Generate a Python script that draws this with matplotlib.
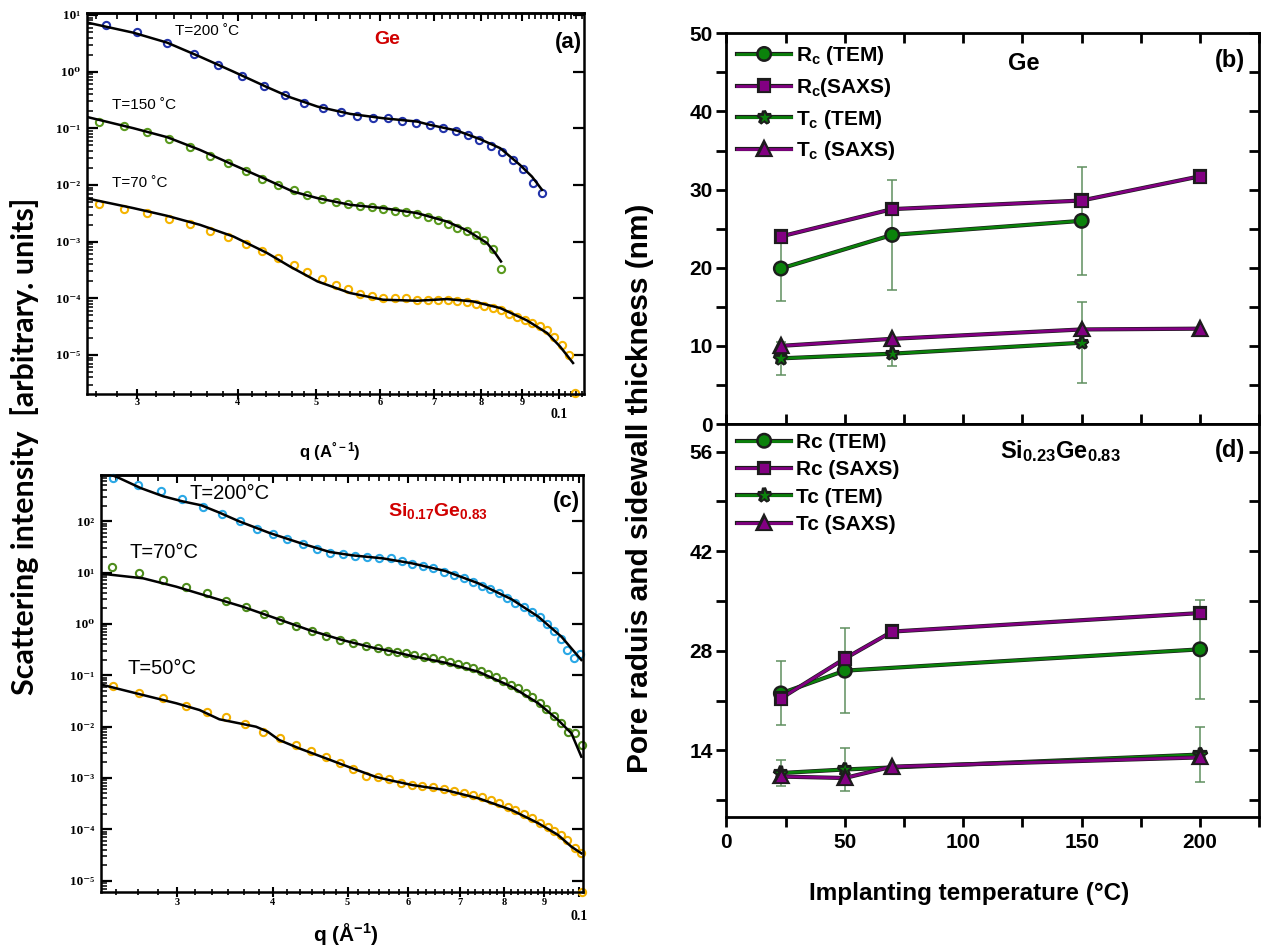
import numpy as np
import matplotlib
matplotlib.use('Agg')
import matplotlib.pyplot as plt
from matplotlib import ticker
import matplotlib.patheffects as pe
from matplotlib.lines import Line2D

# ---------------- data: panel (a)  Ge, SAXS curves ----------------
qa_200 = [0.0275, 0.0300, 0.0327, 0.0353, 0.0378, 0.0405, 0.0431, 0.0457, 0.0483,
          0.0510, 0.0536, 0.0562, 0.0588, 0.0614, 0.0639, 0.0665, 0.0692, 0.0718,
          0.0745, 0.0771, 0.0796, 0.0823, 0.0850, 0.0877, 0.0902, 0.0928, 0.0952]
Ia_200 = [6.67, 4.95, 3.25, 2.05, 1.31, 0.839, 0.560, 0.388, 0.284, 0.226, 0.192,
          0.168, 0.154, 0.151, 0.136, 0.126, 0.1135, 0.1016, 0.090, 0.0766, 0.0624,
          0.0489, 0.0388, 0.0277, 0.0189, 0.01075, 0.00716]
qa_150 = [0.0269, 0.0289, 0.0309, 0.0329, 0.0349, 0.0369, 0.0389, 0.0410, 0.0429,
          0.0449, 0.0469, 0.0487, 0.0509, 0.0529, 0.0548, 0.0567, 0.0587, 0.0605,
          0.0626, 0.0646, 0.0667, 0.0688, 0.0708, 0.0728, 0.0747, 0.0769, 0.0789,
          0.0807, 0.0828, 0.0848]
Ia_150 = [0.131, 0.110, 0.0853, 0.0643, 0.0476, 0.0330, 0.0242, 0.0177, 0.0128,
          0.0100, 0.0080, 0.0067, 0.0056, 0.0050, 0.0046, 0.0043, 0.0040, 0.00374,
          0.00353, 0.00331, 0.00305, 0.00277, 0.00242, 0.00206, 0.00177, 0.00151,
          0.00132, 0.00105, 0.00074, 0.00033]
qa_70 = qa_150 + [0.0867, 0.0887, 0.0908, 0.0925, 0.0947, 0.0966, 0.0985, 0.1008,
                  0.1028, 0.1046]
Ia_70 = [0.00464, 0.00379, 0.00326, 0.00252, 0.00206, 0.00157, 0.00120, 0.000903,
         0.000669, 0.000512, 0.000379, 0.000285, 0.000218, 0.000173, 0.000145,
         0.000120, 0.000111, 0.000103, 0.000101, 0.000101, 9.4e-5, 9.4e-5, 9.4e-5,
         9.4e-5, 8.8e-5, 8.6e-5, 8.0e-5, 7.4e-5, 6.7e-5, 6.1e-5, 5.3e-5, 4.7e-5,
         4.2e-5, 3.7e-5, 3.3e-5, 2.7e-5, 2.1e-5, 1.5e-5, 1.0e-5, 2.1e-6]

# fitted curves (a)
qfa_200 = [0.0260, 0.0297, 0.0327, 0.0359, 0.0395, 0.0435, 0.0464, 0.0502, 0.0551,
           0.0605, 0.0667, 0.0692, 0.0747, 0.0798, 0.0845, 0.0894, 0.0925, 0.0952]
Ifa_200 = [7.38, 4.87, 3.25, 1.84, 1.0, 0.531, 0.354, 0.2415, 0.1795, 0.1507,
           0.1313, 0.1148, 0.0910, 0.0642, 0.0446, 0.0226, 0.01406, 0.0082]
qfa_150 = [0.0260, 0.0297, 0.0327, 0.0359, 0.0395, 0.0435, 0.0468, 0.0502, 0.0551,
           0.0605, 0.0667, 0.0726, 0.0769, 0.0814, 0.0833, 0.0847]
Ifa_150 = [0.159, 0.1004, 0.0697, 0.0416, 0.0226, 0.0123, 0.00765, 0.00585, 0.00446,
           0.00390, 0.00318, 0.00226, 0.00157, 0.000942, 0.000627, 0.000446]
qfa_70 = [0.0260, 0.0297, 0.0327, 0.0359, 0.0395, 0.0435, 0.0464, 0.0502, 0.0551,
          0.0605, 0.0667, 0.0726, 0.0782, 0.0845, 0.0912, 0.0966, 0.1002, 0.1040]
Ifa_70 = [0.0058, 0.0039, 0.00285, 0.00198, 0.00123, 0.000627, 0.000364, 0.000198,
          0.0001236, 9.42e-5, 9.04e-5, 9.68e-5, 8.79e-5, 6.72e-5, 4.06e-5, 2.43e-5,
          1.41e-5, 7.2e-6]

# ---------------- data: panel (c)  Si0.17Ge0.83 ----------------
qc_200 = [0.0248, 0.0267, 0.0286, 0.0305, 0.0324, 0.0343, 0.0362, 0.0381, 0.0400,
          0.0417, 0.0438, 0.0456, 0.0475, 0.0493, 0.0511, 0.0530, 0.0549, 0.0569,
          0.0588, 0.0606, 0.0626, 0.0645, 0.0667, 0.0687, 0.0708, 0.0727, 0.0747,
          0.0767, 0.0788, 0.0807, 0.0826, 0.0849, 0.0869, 0.0890, 0.0909, 0.0928,
          0.0948, 0.0965, 0.0985, 0.1003]
Ic_200 = [708, 497, 380, 273, 190, 138, 99.8, 71.9, 55.2, 44.1, 35.3, 29.1, 24.4,
          22.6, 21.0, 20.0, 19.6, 19.0, 17.0, 14.6, 13.4, 12.1, 10.4, 8.94, 7.71,
          6.62, 5.53, 4.71, 3.94, 3.15, 2.51, 2.16, 1.72, 1.34, 0.98, 0.726, 0.500,
          0.310, 0.2135, 0.259]
qc_70 = [0.0247, 0.0268, 0.0288, 0.0308, 0.0328, 0.0348, 0.0369, 0.0389, 0.0408,
         0.0428, 0.0449, 0.0469, 0.0489, 0.0508, 0.0528, 0.0548, 0.0565, 0.0580,
         0.0595, 0.0611, 0.0628, 0.0645, 0.0663, 0.0680, 0.0697, 0.0712, 0.0729,
         0.0746, 0.0762, 0.0779, 0.0797, 0.0816, 0.0834, 0.0852, 0.0869, 0.0889,
         0.0907, 0.0928, 0.0947, 0.0968, 0.0989, 0.1009]
Ic_70 = [13.0, 9.64, 7.14, 5.29, 3.93, 2.82, 2.16, 1.56, 1.19, 0.908, 0.726, 0.580,
         0.484, 0.418, 0.371, 0.334, 0.300, 0.287, 0.267, 0.247, 0.229, 0.213,
         0.198, 0.183, 0.165, 0.153, 0.136, 0.121, 0.1055, 0.0910, 0.0771, 0.0644,
         0.0556, 0.0456, 0.0371, 0.0284, 0.0217, 0.0160, 0.0119, 0.00794, 0.00739,
         0.00438]
qc_50 = [0.0248, 0.0268, 0.0288, 0.0308, 0.0328, 0.0348, 0.0368, 0.0388, 0.0408,
         0.0428, 0.0448, 0.0469, 0.0489, 0.0508, 0.0528, 0.0548, 0.0566, 0.0586,
         0.0606, 0.0625, 0.0645, 0.0667, 0.0687, 0.0708, 0.0727, 0.0747, 0.0768,
         0.0787, 0.0808, 0.0826, 0.0849, 0.0869, 0.0889, 0.0910, 0.0928, 0.0947,
         0.0966, 0.0988, 0.1006, 0.1010]
Ic_50 = [0.0617, 0.0445, 0.0355, 0.0255, 0.0189, 0.0151, 0.01106, 0.00794, 0.00590,
         0.00438, 0.00339, 0.00259, 0.00198, 0.00147, 0.00109, 0.00105, 0.00095,
         0.000785, 0.000728, 0.000696, 0.000656, 0.000600, 0.000563, 0.000515,
         0.000465, 0.000419, 0.000371, 0.000320, 0.000275, 0.000237, 0.000198,
         0.000163, 0.000134, 0.000112, 9.38e-5, 7.73e-5, 6.18e-5, 4.26e-5, 3.40e-5,
         6.1e-6]

# fitted curves (c)
qfc_200 = [0.0239, 0.02515, 0.02692, 0.0288, 0.03048, 0.03226, 0.03413, 0.03611,
           0.03954, 0.04328, 0.0474, 0.05072, 0.05552, 0.06065, 0.06701, 0.07398,
           0.08173, 0.08852, 0.09487, 0.1007]
Ifc_200 = [948, 708, 441, 305, 244, 204, 145, 99.8, 59.3, 38.0, 25.1, 21.6, 18.9,
           15.1, 10.7, 6.16, 3.01, 1.38, 0.563, 0.198]
qfc_70 = [0.0239, 0.02711, 0.02995, 0.03307, 0.03653, 0.04035, 0.04456, 0.04922,
          0.05439, 0.0566, 0.06065, 0.06701, 0.07398, 0.08173, 0.08852, 0.09393,
          0.09775, 0.1007]
Ifc_70 = [9.5, 7.71, 5.29, 3.38, 2.16, 1.28, 0.759, 0.484, 0.334, 0.300, 0.2366,
          0.175, 0.117, 0.0597, 0.0284, 0.01343, 0.00739, 0.00259]
qfc_50 = [0.0239, 0.02711, 0.02995, 0.0321, 0.03407, 0.03617, 0.03802, 0.03937,
          0.04075, 0.04325, 0.04685, 0.05071, 0.05439, 0.0566, 0.06065, 0.06701,
          0.07398, 0.08173, 0.08852, 0.09393, 0.09775, 0.1007]
Ifc_50 = [0.0659, 0.0411, 0.0284, 0.0210, 0.01384, 0.01156, 0.00993, 0.00794,
          0.00547, 0.00377, 0.00241, 0.00154, 0.00105, 0.00091, 0.000728, 0.000581,
          0.000401, 0.000237, 0.000131, 7.73e-5, 4.57e-5, 3.40e-5]

# ---------------- data: panel (b)  Ge pore sizes ----------------
tb_tem = [23, 70, 150]
tb_saxs = [23, 70, 150, 200]
rc_tem_b = [19.9, 24.2, 26.0]
rc_tem_b_err = [4.2, 7.0, 6.9]
rc_saxs_b = [24.0, 27.5, 28.6, 31.7]
tc_tem_b = [8.4, 9.0, 10.4]
tc_tem_b_err = [2.1, 1.6, 5.2]
tc_saxs_b = [10.0, 10.9, 12.1, 12.2]

# ---------------- data: panel (d)  SiGe pore sizes ----------------
td_tem = [23, 50, 200]
td_saxs = [23, 50, 70, 200]
rc_tem_d = [22.0, 25.2, 28.2]
rc_tem_d_err = [4.5, 6.0, 7.0]
rc_saxs_d = [21.3, 26.9, 30.7, 33.3]
tc_tem_d = [10.8, 11.3, 13.4]
tc_tem_d_err = [1.8, 3.0, 3.9]
tc_saxs_d = [10.3, 10.1, 11.7, 13.0]

# ---------------- style ----------------
plt.rcParams['mathtext.fontset'] = 'custom'
plt.rcParams['mathtext.rm'] = 'Liberation Sans:bold'
plt.rcParams['mathtext.it'] = 'Liberation Sans:bold'
plt.rcParams['mathtext.bf'] = 'Liberation Sans:bold'
plt.rcParams['mathtext.default'] = 'rm'
plt.rcParams['font.family'] = ['Liberation Sans', 'DejaVu Sans']

W, H = 1262, 946
fig = plt.figure(figsize=(W / 100, H / 100), dpi=100)


def box(x0, y0, x1, y1):
    # pixel box (left, top, right, bottom) -> figure fraction rect
    return [x0 / W, 1 - y1 / H, (x1 - x0) / W, (y1 - y0) / H]


def ftext(x, y, s, **kw):
    fig.text(x / W, 1 - y / H, s, **kw)


serif = ['Liberation Serif', 'DejaVu Serif']
q_major = [0.03, 0.04, 0.05, 0.06, 0.07, 0.08, 0.09, 0.1]
q_minor = np.arange(0.02, 0.11, 0.01 / 6)
sup = {1: '10\u00b9', 2: '10\u00b2', 0: '10\u2070', -1: '10\u207b\u00b9',
       -2: '10\u207b\u00b2', -3: '10\u207b\u00b3', -4: '10\u207b\u2074',
       -5: '10\u207b\u2075'}


def saxs_axes(ax, xlim, ylim, decs, lab_y, lab_y01):
    ax.set_xscale('log')
    ax.set_yscale('log')
    for sp in ax.spines.values():
        sp.set_linewidth(1.8)
    ax.xaxis.set_major_locator(ticker.FixedLocator(q_major))
    ax.xaxis.set_minor_locator(ticker.FixedLocator(q_minor))
    ax.xaxis.set_major_formatter(ticker.NullFormatter())
    ax.xaxis.set_minor_formatter(ticker.NullFormatter())
    ax.tick_params(axis='x', which='major', direction='inout', length=7, width=1.5)
    ax.tick_params(axis='x', which='minor', direction='inout', length=4, width=1.2)
    ax.set_yticks([10.0 ** k for k in decs], labels=[sup[k] for k in decs],
                  fontsize=9.5, fontweight='bold', family=serif)
    ax.yaxis.set_minor_locator(ticker.LogLocator(base=10, subs=np.arange(2, 10),
                                                 numticks=50))
    ax.yaxis.set_minor_formatter(ticker.NullFormatter())
    ax.tick_params(axis='y', which='major', direction='in', length=8, width=1.6,
                   right=True, pad=5)
    ax.tick_params(axis='y', which='minor', direction='in', length=4, width=1.1,
                   right=False)
    ax.set_xlim(*xlim)
    ax.set_ylim(*ylim)
    top = ax.secondary_xaxis('top')
    top.xaxis.set_major_locator(ticker.FixedLocator(q_major))
    top.xaxis.set_minor_locator(ticker.FixedLocator(q_minor))
    top.xaxis.set_major_formatter(ticker.NullFormatter())
    top.xaxis.set_minor_formatter(ticker.NullFormatter())
    top.tick_params(axis='x', which='major', direction='in', length=6, width=1.5)
    top.tick_params(axis='x', which='minor', direction='in', length=4, width=1.2)
    top.spines['top'].set_linewidth(1.8)
    tr = ax.get_xaxis_transform()
    for i, q in enumerate(q_major[:-1]):
        ax.text(q, lab_y, str(i + 3), transform=tr, ha='center', va='center',
                fontsize=7.5, fontweight='bold', family=serif)
    ax.text(0.1, lab_y01, '0.1', transform=tr, ha='center', va='center',
            fontsize=10, fontweight='bold', family=serif)


def saxs_curve(ax, q, I, qf, If, color):
    ax.plot(qf, If, color='black', lw=1.8, zorder=3)
    ax.plot(q, I, 'o', mfc='none', mec=color, mew=1.5, ms=5.2, zorder=2,
            clip_on=False)


# ---------------- panel (a) ----------------
ax_a = fig.add_axes(box(86.7, 13, 584, 394))
saxs_axes(ax_a, (0.0260, 0.1073), (10 ** -5.69, 10 ** 1.035), range(-5, 2),
          -0.022, -0.055)
saxs_curve(ax_a, qa_200, Ia_200, qfa_200, Ifa_200, '#2233aa')
saxs_curve(ax_a, qa_150, Ia_150, qfa_150, Ifa_150, '#5a9a1e')
saxs_curve(ax_a, qa_70, Ia_70, qfa_70, Ifa_70, '#f5b400')
ftext(175, 31, 'T=200 \u02daC', fontsize=11, va='center')
ftext(112, 105, 'T=150 \u02daC', fontsize=11, va='center')
ftext(112, 183, 'T=70 \u02daC', fontsize=11, va='center')
ftext(387, 40, 'Ge', fontsize=14, color='#d00000', fontweight='bold',
      ha='center', va='center')
ftext(568, 42, '(a)', fontsize=16, fontweight='bold', ha='center', va='center')
ftext(330, 452, 'q (A$^{\u00b0-1}$)', fontsize=12, fontweight='bold',
      ha='center', va='center')

# ---------------- panel (c) ----------------
ax_c = fig.add_axes(box(101, 475, 583, 891.7))
saxs_axes(ax_c, (0.0239, 0.1012), (10 ** -5.216, 10 ** 2.899), range(-5, 3),
          -0.027, -0.06)
saxs_curve(ax_c, qc_200, Ic_200, qfc_200, Ifc_200, '#2aa8e6')
saxs_curve(ax_c, qc_70, Ic_70, qfc_70, Ifc_70, '#4e8c1c')
saxs_curve(ax_c, qc_50, Ic_50, qfc_50, Ifc_50, '#f2b000')
ftext(190, 493, 'T=200\u00b0C', fontsize=14.5, va='center')
ftext(129, 552, 'T=70\u00b0C', fontsize=14.5, va='center')
ftext(128, 668, 'T=50\u00b0C', fontsize=14.5, va='center')
ftext(438, 511, 'Si$_{0.17}$Ge$_{0.83}$', fontsize=14, color='#d00000',
      fontweight='bold', ha='center', va='center')
ftext(566, 502, '(c)', fontsize=16, fontweight='bold', ha='center', va='center')
ftext(346, 934, 'q (\u00c5$^{-1}$)', fontsize=15, fontweight='bold',
      ha='center', va='center')

ftext(25, 446, 'Scattering intensity  [arbitrary. units]', rotation=90,
      fontsize=22, fontweight='bold', family='Lato', ha='center', va='center')

# ---------------- right panels ----------------
green = '#0b820b'
purple = '#820082'
err_c = '#5f8f5f'
edge = '#1c1c1c'
stroke = [pe.Stroke(linewidth=3.0, foreground=edge), pe.Normal()]


def size_axes(ax, ylim, majors, minors, bottom_labels):
    for sp in ax.spines.values():
        sp.set_linewidth(2)
    ax.set_xticks([0, 50, 100, 150, 200])
    ax.set_xticks([25, 75, 125, 175, 225], minor=True)
    ax.set_yticks(majors)
    ax.set_yticks(minors, minor=True)
    ax.set_xlim(0, 225)
    ax.set_ylim(*ylim)
    ax.tick_params(axis='y', which='both', direction='out', length=7, width=2,
                   labelsize=15, pad=3)
    for lab in ax.get_yticklabels():
        lab.set_fontweight('bold')
    right = ax.secondary_yaxis('right')
    right.set_yticks(majors)
    right.set_yticks(minors, minor=True)
    right.tick_params(axis='y', which='both', direction='in', length=7, width=2,
                      labelright=False)
    if bottom_labels:
        ax.tick_params(axis='x', which='both', direction='out', length=7,
                       width=2, labelsize=15, pad=5)
        for lab in ax.get_xticklabels():
            lab.set_fontweight('bold')
    else:
        ax.tick_params(axis='x', which='both', direction='in', length=7,
                       width=2, labelbottom=False)
        topx = ax.secondary_xaxis('top')
        topx.set_xticks([0, 50, 100, 150, 200])
        topx.set_xticks([25, 75, 125, 175, 225], minor=True)
        topx.tick_params(axis='x', which='both', direction='in', length=7,
                         width=2, labeltop=False)


def size_series(ax, t, y, color, marker, ms):
    ax.plot(t, y, color=color, lw=2.0, marker=marker, ms=ms, mfc=color,
            mec=edge, mew=0.5, path_effects=stroke, zorder=3)


def size_errors(ax, t, y, e):
    ax.errorbar(t, y, yerr=e, fmt='none', ecolor=err_c, elinewidth=1.1,
                capsize=3.5, capthick=1.1, zorder=2)


marks = [(green, 'o', 8.5), (purple, 's', 7.5), (green, '*', 10),
         (purple, '^', 8.5)]


def legend(ax, labels, y_top, spacing):
    handles = [Line2D([], [], color=c, lw=2.0, marker=m, ms=s, mfc=c, mec=edge,
                      mew=0.5, path_effects=stroke) for c, m, s in marks]
    ax.legend(handles, labels, loc='upper left', bbox_to_anchor=(0.02, y_top),
              frameon=False, borderpad=0, borderaxespad=0, handlelength=2.6,
              handletextpad=0.25, labelspacing=spacing,
              prop={'size': 15, 'weight': 'bold'})


def size_panel(ax, t_tem, t_saxs, rc_tem, rc_err, rc_saxs, tc_tem, tc_err, tc_saxs):
    size_errors(ax, t_tem, rc_tem, rc_err)
    size_errors(ax, t_tem, tc_tem, tc_err)
    size_series(ax, t_tem, rc_tem, *marks[0])
    size_series(ax, t_tem, tc_tem, *marks[2])
    size_series(ax, t_saxs, rc_saxs, *marks[1])
    size_series(ax, t_saxs, tc_saxs, *marks[3])


# panel (b)
ax_b = fig.add_axes(box(726.4, 33.3, 1259.3, 424))
size_axes(ax_b, (0, 50), [0, 10, 20, 30, 40, 50], [5, 15, 25, 35, 45], False)
size_panel(ax_b, tb_tem, tb_saxs, rc_tem_b, rc_tem_b_err, rc_saxs_b,
           tc_tem_b, tc_tem_b_err, tc_saxs_b)
legend(ax_b, ['R$_{c}$ (TEM)', 'R$_{c}$(SAXS)', 'T$_{c}$ (TEM)', 'T$_{c}$ (SAXS)'],
       0.972, 0.42)
ftext(1024, 63, 'Ge', fontsize=17, fontweight='bold', ha='center', va='center')
ftext(1230, 60, '(b)', fontsize=17, fontweight='bold', ha='center', va='center')

# panel (d)
ax_d = fig.add_axes(box(726.4, 424, 1259.3, 816.6))
size_axes(ax_d, (4.67, 59.9), [14, 28, 42, 56], [7, 21, 35, 49], True)
size_panel(ax_d, td_tem, td_saxs, rc_tem_d, rc_tem_d_err, rc_saxs_d,
           tc_tem_d, tc_tem_d_err, tc_saxs_d)
legend(ax_d, ['Rc (TEM)', 'Rc (SAXS)', 'Tc (TEM)', 'Tc (SAXS)'], 0.977, 0.4)
ftext(1060, 451, 'Si$_{0.23}$Ge$_{0.83}$', fontsize=17, fontweight='bold',
      ha='center', va='center')
ftext(1230, 450, '(d)', fontsize=17, fontweight='bold', ha='center', va='center')

ftext(969, 893, 'Implanting temperature (\u00b0C)', fontsize=17.5, fontweight='bold',
      ha='center', va='center')
ftext(640, 488, 'Pore raduis and sidewall thickness (nm)', rotation=90,
      fontsize=21.5, fontweight='bold', ha='center', va='center')

fig.savefig('out.png', dpi=100)
